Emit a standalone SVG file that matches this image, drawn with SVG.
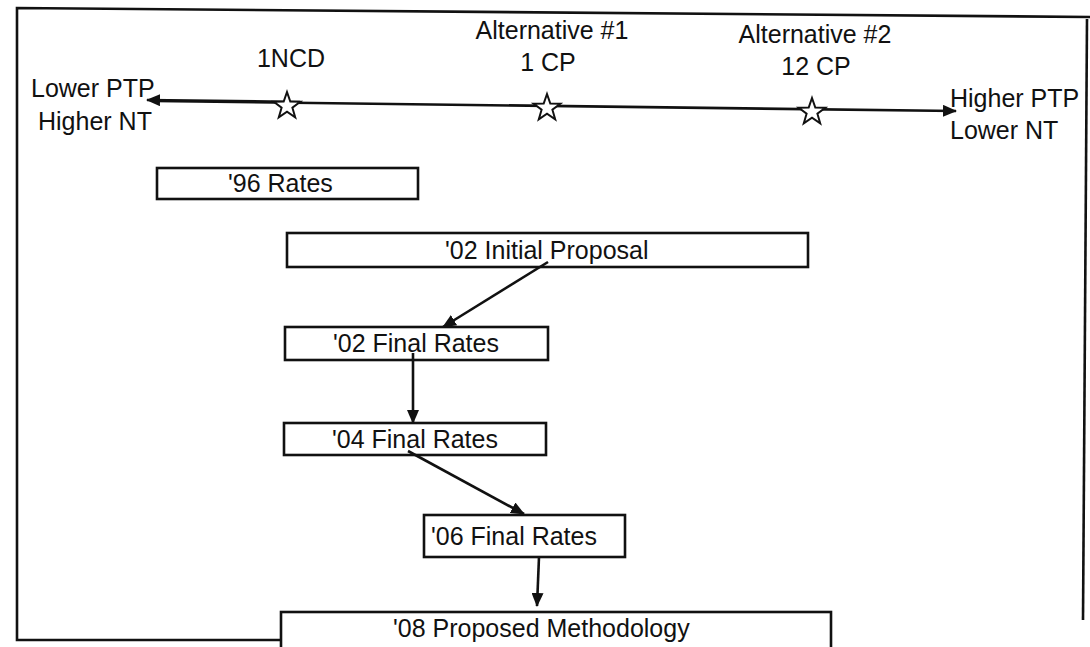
<svg xmlns="http://www.w3.org/2000/svg" width="1090" height="647" viewBox="0 0 1090 647">
<defs>
<style>
text{font-family:"Liberation Sans",Arial,sans-serif;font-size:25px;fill:#111}
.box{fill:#fff;stroke:#111;stroke-width:2.6}
.ln{stroke:#111;stroke-width:2.6;fill:none}
.star{fill:#fff;stroke:#111;stroke-width:2}
</style>
<marker id="ah" viewBox="0 0 14 12" refX="13" refY="6" markerWidth="14" markerHeight="12" markerUnits="userSpaceOnUse" orient="auto">
<path d="M0,0 L14,6 L0,12 Z" fill="#111"/>
</marker>
<polygon id="st" points="0,-14 3.3,-4.5 13.3,-4.3 5.4,1.7 8.2,11.3 0,5.6 -8.2,11.3 -5.4,1.7 -13.3,-4.3 -3.3,-4.5"/>
</defs>
<rect width="1090" height="647" fill="#fff"/>
<g id="frame" class="ln">
<polyline points="281,640 17,640 17,8 1090,17"/>
<line x1="1087" y1="19" x2="1083" y2="620"/>
</g>
<g id="axis">
<line class="ln" x1="155" y1="101" x2="956" y2="111" marker-end="url(#ah)"/>
<line class="ln" x1="300" y1="102" x2="147" y2="100" marker-end="url(#ah)"/>
<use href="#st" class="star" x="287" y="106"/>
<use href="#st" class="star" x="547" y="108"/>
<use href="#st" class="star" x="812" y="112"/>
<text x="31" y="97">Lower PTP</text>
<text x="38" y="130">Higher NT</text>
<text x="950" y="107">Higher PTP</text>
<text x="950" y="139">Lower NT</text>
<text x="291" y="67" text-anchor="middle">1NCD</text>
<text x="552" y="39" text-anchor="middle">Alternative #1</text>
<text x="548" y="71" text-anchor="middle">1 CP</text>
<text x="815" y="43" text-anchor="middle">Alternative #2</text>
<text x="816" y="75" text-anchor="middle">12 CP</text>
</g>
<g id="n96"><rect class="box" x="157" y="168" width="261" height="31"/><text x="228" y="192">'96 Rates</text></g>
<g id="n02i"><rect class="box" x="287" y="233" width="521" height="34"/><text x="445" y="259">'02 Initial Proposal</text></g>
<g id="n02f"><rect class="box" x="285" y="327" width="263" height="33"/><text x="333" y="352">'02 Final Rates</text></g>
<g id="n04f"><rect class="box" x="284" y="423" width="262" height="32"/><text x="332" y="448">'04 Final Rates</text></g>
<g id="n06f"><rect class="box" x="424" y="515" width="201" height="42"/><text x="431" y="545">'06 Final Rates</text></g>
<g id="n08"><rect class="box" x="281" y="612" width="550" height="50"/><text x="393" y="637">'08 Proposed Methodology</text></g>
<g id="connectors" class="ln">
<line x1="548" y1="262" x2="443" y2="327" marker-end="url(#ah)"/>
<line x1="413" y1="353" x2="413" y2="423" marker-end="url(#ah)"/>
<line x1="408" y1="451" x2="524" y2="514" marker-end="url(#ah)"/>
<line x1="539" y1="557" x2="537" y2="606" marker-end="url(#ah)"/>
</g>
</svg>
